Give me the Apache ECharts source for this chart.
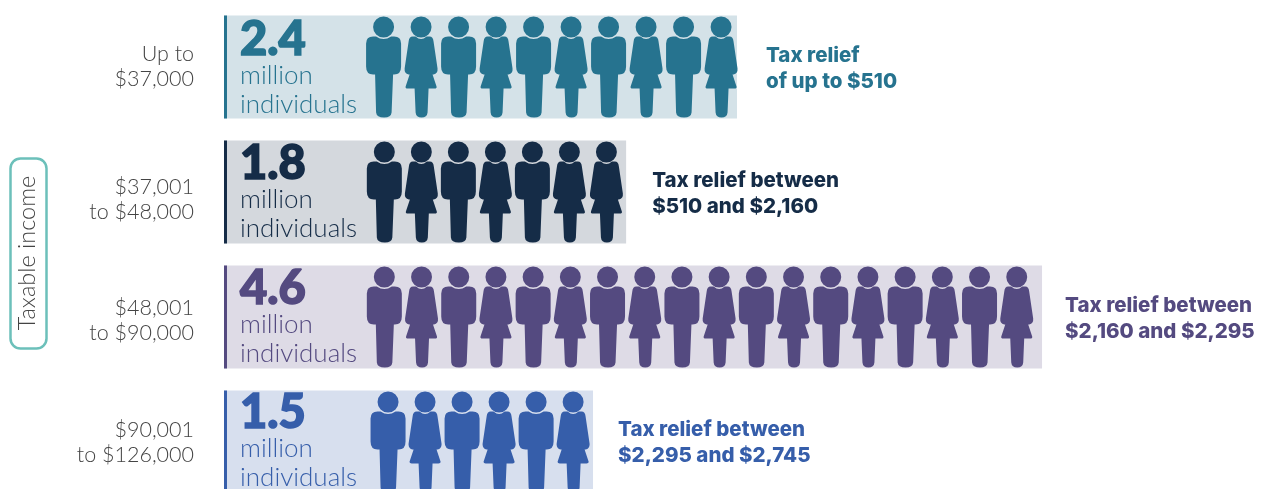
<!DOCTYPE html>
<html><head><meta charset="utf-8">
<style>html,body{margin:0;padding:0;background:#fff;overflow:hidden}#c{width:1261px;height:489px}</style>
<script src="https://cdn.jsdelivr.net/npm/echarts@6/dist/echarts.min.js"></script></head>
<body><div id="c"></div>
<script>
const incomeBands = ['Up to\n$37,000', '$37,001\nto $48,000', '$48,001\nto $90,000', '$90,001\nto $126,000'];
const millions = ['2.4', '1.8', '4.6', '1.5'];
const figureRows = ['MWMWMWMWMW', 'MWMWMWW', 'MWMWMWMWMWMWMWMWMW', 'MWMWMW'];
const bandLengths = [13.79, 10.81, 21.99, 9.92];
const reliefText = ['Tax relief\nof up to $510', 'Tax relief between\n$510 and $2,160', 'Tax relief between\n$2,160 and $2,295', 'Tax relief between\n$2,295 and $2,745'];
const axisTitle = 'Taxable income';

const dark = ['#26738f', '#152c47', '#544a80', '#365eaa'];
const light = ['#d4e2e8', '#d4d8dd', '#dedbe6', '#d7dfee'];
const slotPx = 37.2, gridLeft = 224, gridW = 1037;
const firstSlot = [4.29, 4.31, 4.31, 4.41];
const pitch = [1.008, 0.995, 1.0, 0.995];
const labelDy = [0, 8, 4, 1];
const reliefGap = [29, 26, 23, 25];
const reliefDy = [2, 2, 2, 1];
const blockDy = [2, 1, 1, 0];

const man = 'path://M17.5,0A10.5,10.5 0 1 1 17.5,21A10.5,10.5 0 1 1 17.5,0ZM7,20L10,20Q17.5,25 25,20L28,20Q35,20 35,27L35,50Q35,58 28,58L27,58L25.5,96Q25,101 18,101Q10.5,101 10,96L9,58L7,58Q0,58 0,50L0,27Q0,20 7,20Z';
const woman = 'path://M16.5,0A10.5,10.5 0 1 1 16.5,21A10.5,10.5 0 1 1 16.5,0ZM8,20L11,20Q16.5,25 22,20L25,20Q28.5,20 29,25L33,52Q33.5,57 29,58L28,58L32,70Q32.5,72 30,72L24,72L23,96Q22.5,101 17,101Q11.5,101 11,96L10,72L3,72Q0.5,72 1,70L5,58L4,58Q-0.5,57 0,52L4,25Q4.5,20 8,20Z';

const figures = [];
figureRows.forEach((row, r) => {
  row.split('').forEach((kind, i) => {
    const isMan = kind === 'M';
    figures.push({
      value: [firstSlot[r] + i * pitch[r], r],
      symbol: isMan ? man : woman,
      symbolSize: [isMan ? 35 : 33, 101],
      itemStyle: { color: dark[r], opacity: 1 }
    });
  });
});

const chart = echarts.init(document.getElementById('c'), null, { renderer: 'canvas' });
chart.setOption({
  animation: false,
  grid: { left: gridLeft, width: gridW, top: 4.5, height: 500, outerBoundsMode: 'none' },
  xAxis: { type: 'value', min: 0, max: gridW / slotPx, show: false },
  yAxis: { type: 'category', inverse: true, data: incomeBands, show: false },
  series: [
    {
      type: 'bar', barWidth: 103, barGap: '-100%', silent: true, z: 1,
      data: bandLengths.map((v, r) => ({
        value: v,
        itemStyle: { color: light[r] },
        label: {
          show: true, position: 'insideLeft', distance: 16, offset: [0, blockDy[r]],
          formatter: '{n|' + millions[r] + '}\n{m|million}\n{m|individuals}',
          rich: {
            n: { fontFamily: 'Lato', fontWeight: 900, fontSize: 47, lineHeight: 42, color: dark[r], textBorderColor: dark[r], textBorderWidth: 1.6 },
            m: { fontFamily: 'Lato', fontWeight: 300, fontSize: 26, lineHeight: 29, color: dark[r] }
          }
        }
      }))
    },
    {
      type: 'bar', barWidth: 103, barGap: '-100%', silent: true, z: 2,
      data: bandLengths.map((v, r) => ({ value: 3 / slotPx, itemStyle: { color: dark[r] } }))
    },
    { type: 'scatter', silent: true, z: 3, data: figures },
    {
      type: 'scatter', silent: true, z: 3, symbolSize: 0,
      data: incomeBands.map((t, r) => ({
        value: [0, r],
        itemStyle: { opacity: 1 },
        label: {
          show: true, position: 'left', distance: 30, offset: [0, labelDy[r]],
          formatter: t, align: 'right', fontFamily: 'Lato', fontWeight: 300, fontSize: 21.5, lineHeight: 25, color: '#444'
        }
      }))
    },
    {
      type: 'scatter', silent: true, z: 3, symbolSize: 0,
      data: reliefText.map((t, r) => ({
        value: [bandLengths[r], r],
        itemStyle: { opacity: 1 },
        label: {
          show: true, position: 'right', distance: reliefGap[r], offset: [0, reliefDy[r]],
          formatter: t, align: 'left', fontFamily: 'Inter', fontWeight: 800, fontSize: 20.5, lineHeight: 26, color: dark[r]
        }
      }))
    }
  ],
  graphic: [
    { type: 'rect', shape: { x: 10.5, y: 158.5, width: 36, height: 190, r: 10 }, style: { fill: 'none', stroke: '#6cc0ba', lineWidth: 2.5 } },
    { type: 'text', x: 27, y: 253, rotation: Math.PI / 2, style: { text: axisTitle, fontFamily: 'Lato', fontWeight: 300, fontSize: 23.5, fill: '#444', align: 'center', verticalAlign: 'middle' } }
  ]
});
</script></body></html>
